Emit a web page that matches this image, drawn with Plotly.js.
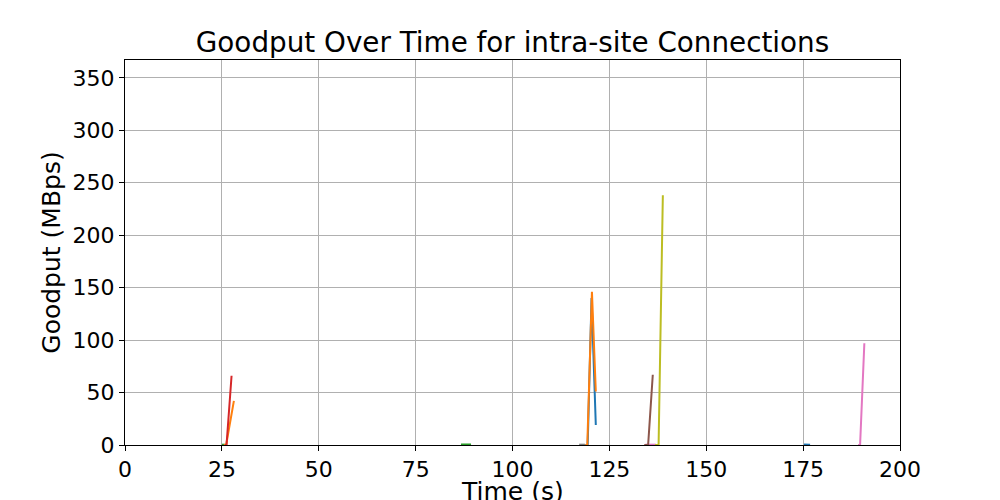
<!DOCTYPE html>
<html>
<head>
<meta charset="utf-8">
<script src="https://cdn.plot.ly/plotly-3.0.1.min.js"></script>
<style>html,body{margin:0;padding:0;background:#fff;}#chart{width:1000px;height:500px;}</style>
</head>
<body>
<div id="chart"></div>
<script>
// Connection series (time in s, goodput in MBps)
const seriesNames = ["conn-a","conn-b","conn-c","conn-d","conn-e","conn-f","conn-g","conn-h","conn-i","conn-j","conn-k","conn-l"];
const seriesColors = ["#2ca02c","#ff7f0e","#d62728","#2ca02c","#7f7f7f","#1f77b4","#ff7f0e","#e377c2","#8c564b","#bcbd22","#1f77b4","#e377c2"];
const greenATime = [25.0, 26.0];
const greenAVal = [0.3, 0.3];
const orangeATime = [25.5, 26.1, 28.1];
const orangeAVal = [0, 0, 42];
const redTime = [25.8, 26.2, 27.5];
const redVal = [0, 0, 66];
const greenBTime = [86.7, 89.3];
const greenBVal = [0.5, 0.5];
const grayTime = [117.2, 118.7];
const grayVal = [0.3, 0.3];
const blueATime = [118.8, 119.4, 120.4, 121.5];
const blueAVal = [0, 0, 140, 19];
const orangeBTime = [118.8, 119.3, 120.5, 121.5];
const orangeBVal = [0, 0, 146, 51];
const pinkATime = [134.3, 137.0];
const pinkAVal = [0.3, 0.3];
const brownTime = [134.0, 135.0, 136.2];
const brownVal = [0, 0, 67];
const oliveTime = [136.8, 137.7, 138.8];
const oliveVal = [0, 0, 238];
const blueBTime = [175.2, 176.8];
const blueBVal = [0.5, 0.3];
const pinkBTime = [189.2, 189.7, 190.8];
const pinkBVal = [0, 0, 97];

const xTicks = [0, 25, 50, 75, 100, 125, 150, 175, 200];
const yTicks = [0, 50, 100, 150, 200, 250, 300, 350];
const xTitle = "Time (s)";
const yTitle = "Goodput (MBps)";

const groups = [
  [greenATime, greenAVal],
  [orangeATime, orangeAVal],
  [redTime, redVal],
  [greenBTime, greenBVal],
  [grayTime, grayVal],
  [blueATime, blueAVal],
  [orangeBTime, orangeBVal],
  [pinkATime, pinkAVal],
  [brownTime, brownVal],
  [oliveTime, oliveVal],
  [blueBTime, blueBVal],
  [pinkBTime, pinkBVal]
];

const traces = groups.map((g, i) => ({
  x: g[0], y: g[1], type: "scatter", mode: "lines",
  name: seriesNames[i], showlegend: false,
  line: {color: seriesColors[i], width: 2}
}));

const font = "DejaVu Sans, sans-serif";
const layout = {
  width: 1000, height: 500,
  margin: {l: 125, r: 100, t: 60, b: 55},
  paper_bgcolor: "#fff", plot_bgcolor: "#fff",
  font: {family: font, color: "#000"},
  title: {text: "Goodput Over Time for intra-site Connections", font: {family: font, size: 27.8, color: "#000"}, x: 0.5125, xanchor: "center", y: 0.915, yanchor: "middle"},
  xaxis: {
    range: [0, 200], tickvals: xTicks, ticktext: xTicks.map(String),
    showgrid: true, gridcolor: "#b0b0b0", gridwidth: 1,
    showline: true, mirror: true, linecolor: "#000", linewidth: 1,
    ticks: "outside", ticklen: 5, tickcolor: "#000",
    tickfont: {family: font, size: 22, color: "#000"},
    zeroline: false
  },
  yaxis: {
    range: [0, 367], tickvals: yTicks, ticktext: yTicks.map(String),
    showgrid: true, gridcolor: "#b0b0b0", gridwidth: 1,
    showline: true, mirror: true, linecolor: "#000", linewidth: 1,
    ticks: "outside", ticklen: 5, tickcolor: "#000",
    tickfont: {family: font, size: 22, color: "#000"},
    zeroline: false,
    title: {text: yTitle, font: {family: font, size: 25, color: "#000"}, standoff: 4}
  },
  annotations: [{
    text: xTitle, xref: "paper", yref: "paper", x: 0.5, y: -0.08,
    xanchor: "center", yanchor: "top", showarrow: false, borderpad: 0,
    font: {family: font, size: 25, color: "#000"}
  }]
};

Plotly.newPlot("chart", traces, layout, {staticPlot: true, displayModeBar: false});
</script>
</body>
</html>
